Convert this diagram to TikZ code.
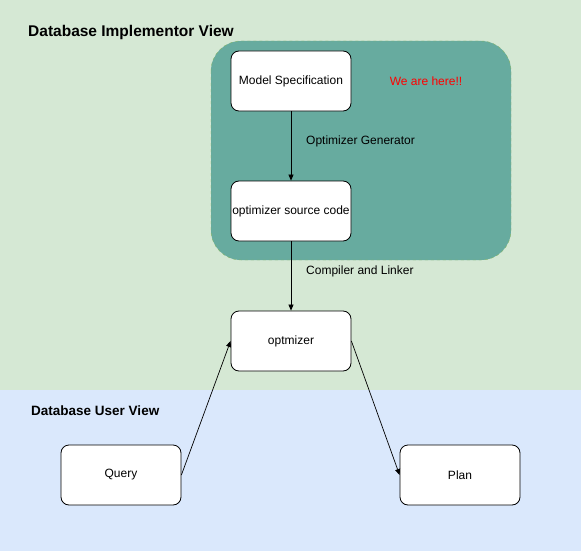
\documentclass[tikz,border=0pt]{standalone}
\usepackage{fontspec}
\setmainfont{Liberation Sans}
\usetikzlibrary{arrows.meta}
\definecolor{implbg}{HTML}{D5E8D4}
\definecolor{userbg}{HTML}{DAE8FC}
\definecolor{teal}{HTML}{67AB9F}
\definecolor{dashgreen}{HTML}{82B366}
\tikzset{
  box/.style={draw=black, fill=white, rounded corners=8pt, minimum width=120pt, minimum height=60pt, inner sep=0pt, font=\fontsize{12}{14}\selectfont, line width=0.8pt},
  conn/.style={-{Triangle[length=6pt,width=5pt]}, line width=0.7pt},
  lbl/.style={font=\fontsize{12}{14}\selectfont, anchor=west, inner sep=0pt},
  ttl/.style={font=\bfseries\fontsize{15.5}{18}\selectfont, anchor=west, inner sep=0pt}
}
\begin{document}
\begin{tikzpicture}[x=1pt,y=-1pt]
\useasboundingbox (0,0) rectangle (581,551);
\fill[implbg] (0,0) rectangle (581,390);
\fill[userbg] (0,390) rectangle (581,551);
\draw[draw=dashgreen, fill=teal, dashed, rounded corners=30pt] (211,41) rectangle (511,260);
\node[ttl] (t1) at (28,32) {Database Implementor View};
\node[ttl, font=\bfseries\fontsize{13.5}{16}\selectfont] (t2) at (31,411) {Database User View};
\node[box] (model) at (291,81) {Model Specification};
\node[box] (src) at (291,211) {optimizer source code};
\node[box] (opt) at (291,341) {optmizer};
\node[box] (query) at (121,475) {Query};
\node[box] (plan) at (460,475) {Plan};
\node[font=\fontsize{12}{14}\selectfont, text=red] (here) at (426,81) {We are here!!};
\node[lbl] (gen) at (306,141) {Optimizer Generator};
\node[lbl] (comp) at (306,271) {Compiler and Linker};
\draw[conn] (model) -- (src);
\draw[conn] (src) -- (opt);
\draw[conn] (query.east) -- (opt.west);
\draw[conn] (opt.east) -- (plan.west);
\end{tikzpicture}
\end{document}
